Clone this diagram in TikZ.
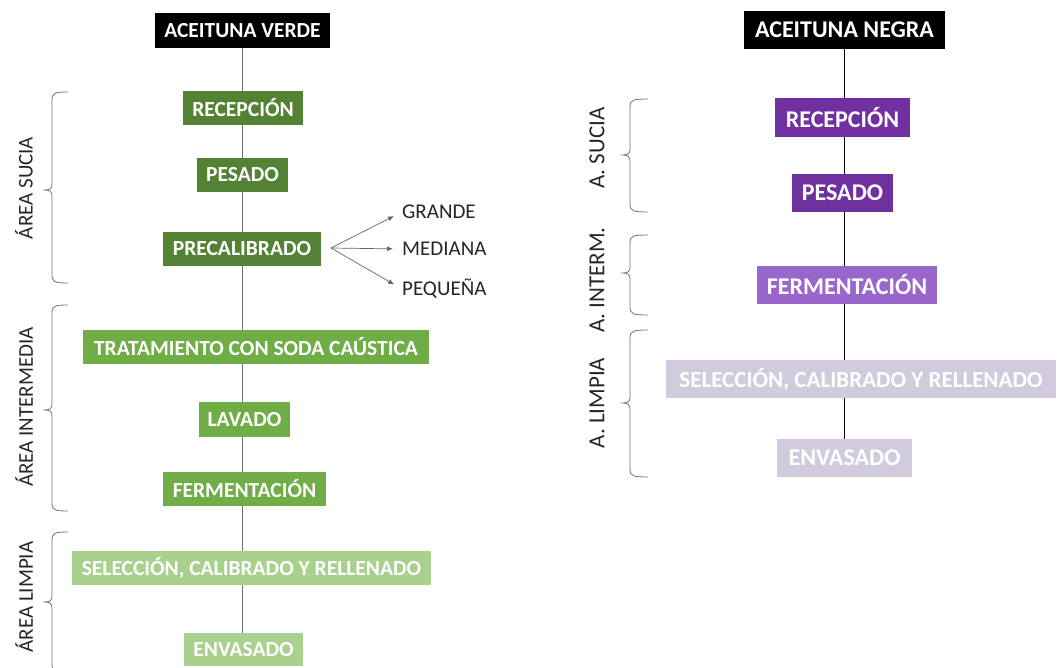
\documentclass[tikz,border=0pt]{standalone}
\usepackage{fontspec}
\setmainfont{Carlito}
\usetikzlibrary{backgrounds,arrows.meta}
\definecolor{gdark}{HTML}{548235}
\definecolor{gmid}{HTML}{70AD47}
\definecolor{glight}{HTML}{A9D18E}
\definecolor{pdark}{HTML}{7030A0}
\definecolor{pmid}{HTML}{9966CC}
\definecolor{plight}{HTML}{D2CBDD}
\definecolor{txt}{HTML}{262626}
\newcommand{\sidebrace}[5]{% x, top, tip, bottom, arm
  \draw[brc] ({#1+#5},#2) .. controls ({#1+3},#2) and (#1,{#2+1}) .. (#1,{#2+8})
    -- (#1,{#3-6}) .. controls (#1,{#3-1}) and ({#1-2},#3) .. ({#1-9},#3)
    .. controls ({#1-2},#3) and (#1,{#3+1}) .. (#1,{#3+6})
    -- (#1,{#4-8}) .. controls (#1,{#4-1}) and ({#1+3},#4) .. ({#1+#5},#4);}
\begin{document}
\begin{tikzpicture}[x=1pt,y=-1pt,
  box/.style={rectangle, inner sep=0pt, text=white, font=\bfseries\fontsize{21.5}{25}\selectfont},
  rbox/.style={box, font=\bfseries\fontsize{24}{28}\selectfont},
  lab/.style={text=txt, font=\fontsize{21}{25}\selectfont, inner sep=0pt},
  rlab/.style={text=txt, font=\fontsize{23}{28}\selectfont, inner sep=0pt},
  brc/.style={draw=black!55, line width=0.8pt},
  flow/.style={draw=black!55, line width=1.1pt},
  rflow/.style={draw=black, line width=1.1pt},
  arr/.style={draw=black!60, line width=0.7pt, -{Latex[length=6pt,width=5pt]}, shorten >=9pt},
  opt/.style={lab, anchor=west, text height=13pt, text depth=0pt}]
\useasboundingbox (0,0) rectangle (1060,668);

% ---------------- left column
\node[box, fill=black, minimum width=175pt, minimum height=35pt] (av) at (242.5,30.5) {ACEITUNA VERDE};
\node[box, fill=gdark, minimum width=120pt, minimum height=34pt] (lrec) at (243,108) {RECEPCIÓN};
\node[box, fill=gdark, minimum width=91pt, minimum height=34pt] (lpes) at (242.5,175) {PESADO};
\node[box, fill=gdark, minimum width=158pt, minimum height=34pt] (lpre) at (242,249) {PRECALIBRADO};
\node[box, fill=gmid, minimum width=346pt, minimum height=34pt] (ltra) at (256,347) {TRATAMIENTO CON SODA CAÚSTICA};
\node[box, fill=gmid, minimum width=91pt, minimum height=35pt] (llav) at (244.5,419.5) {LAVADO};
\node[box, fill=gmid, minimum width=163pt, minimum height=34pt] (lfer) at (244.5,489) {FERMENTACIÓN};
\node[box, fill=glight, minimum width=359pt, minimum height=34pt] (lsel) at (251.5,568) {SELECCIÓN, CALIBRADO Y RELLENADO};
\node[box, fill=glight, minimum width=119pt, minimum height=33pt] (lenv) at (243.5,649.5) {ENVASADO};
\begin{scope}[on background layer]
  \draw[flow] (av.south) -- (av.south |- lenv.north);
\end{scope}

% precalibrado branches
\coordinate (pc) at (331,248);
\node[opt] (gr) at (402,212) {GRANDE};
\node[opt] (me) at (402,249) {MEDIANA};
\node[opt] (pq) at (402,289) {PEQUEÑA};
\draw[arr] (pc) -- (gr.west);
\draw[arr] (pc) -- (me.west);
\draw[arr] (pc) -- (pq.west);

% left area braces and labels
\sidebrace{52}{92}{190}{283}{16}
\sidebrace{52}{305}{410}{511}{16}
\sidebrace{52}{532}{602}{672}{16}
\node[lab, rotate=90] (las) at (24,188) {ÁREA SUCIA};
\node[lab, rotate=90] (lai) at (24,407) {ÁREA INTERMEDIA};
\node[lab, rotate=90] (lal) at (24,597) {ÁREA LIMPIA};

% ---------------- right column
\node[rbox, fill=black, minimum width=201pt, minimum height=38pt] (an) at (844.5,30) {ACEITUNA NEGRA};
\node[rbox, fill=pdark, minimum width=135pt, minimum height=39pt] (rrec) at (842.5,117.5) {RECEPCIÓN};
\node[rbox, fill=pdark, minimum width=101pt, minimum height=38pt] (rpes) at (842.5,193) {PESADO};
\node[rbox, fill=pmid, minimum width=180pt, minimum height=38pt] (rfer) at (847,285) {FERMENTACIÓN};
\node[rbox, fill=plight, minimum width=390pt, minimum height=38pt, font=\bfseries\fontsize{23}{28}\selectfont] (rsel) at (861,379) {SELECCIÓN, CALIBRADO Y RELLENADO};
\node[rbox, fill=plight, minimum width=135pt, minimum height=38pt] (renv) at (844.5,458) {ENVASADO};
\begin{scope}[on background layer]
  \draw[rflow] (an.south) -- (an.south |- renv.north);
\end{scope}

% right area braces and labels
\sidebrace{630}{99}{155}{212}{18}
\sidebrace{630}{235}{273}{315}{18}
\sidebrace{630}{330}{403}{477}{18}
\node[rlab, rotate=90] (ras) at (597,148) {A. SUCIA};
\node[rlab, rotate=90] (rai) at (597,280) {A. INTERM.};
\node[rlab, rotate=90] (ral) at (597,403) {A. LIMPIA};
\end{tikzpicture}
\end{document}
